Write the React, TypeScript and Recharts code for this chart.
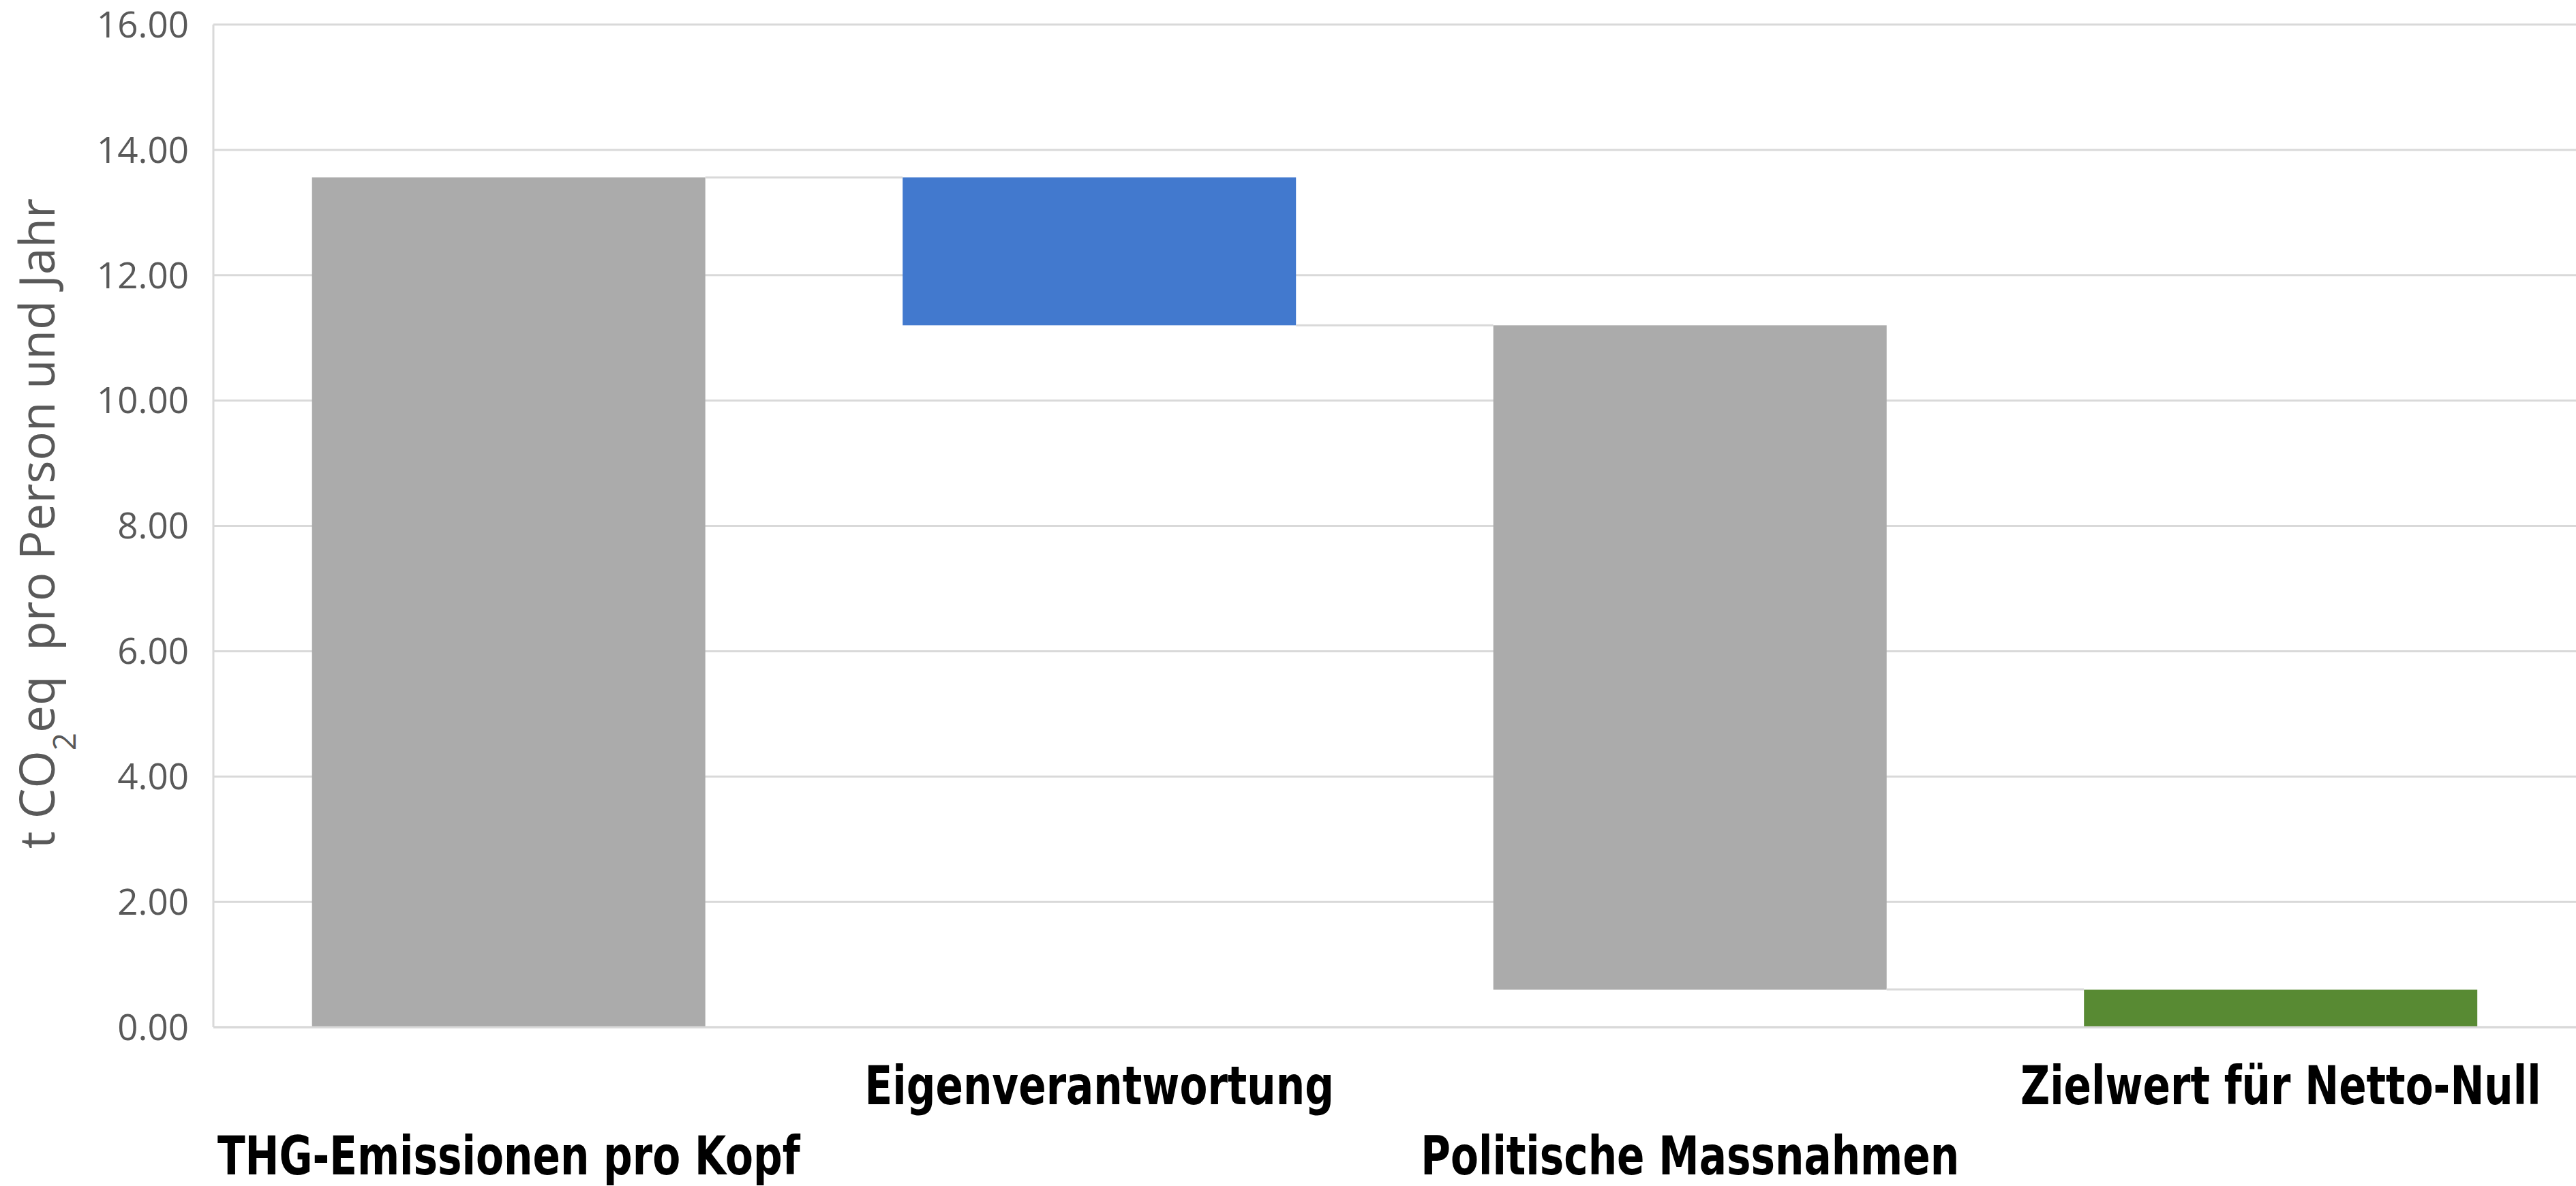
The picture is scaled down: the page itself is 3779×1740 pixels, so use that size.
import React from "react";
import { BarChart, Bar, XAxis, YAxis, CartesianGrid } from "recharts";

const categories = [
  "THG-Emissionen pro Kopf",
  "Eigenverantwortung",
  "Politische Massnahmen",
  "Zielwert für Netto-Null",
];
const lowValues = [0, 11.2, 0.6, 0];
const highValues = [13.56, 13.56, 11.2, 0.6];
// total = connector leaves from the top, down = from the bottom
const stepKinds = ["total", "down", "down", "total"];
const barColors = ["#ababab", "#4279ce", "#ababab", "#588a33"];
const yTicks = [0, 2, 4, 6, 8, 10, 12, 14, 16];

const data = categories.map((name, i) => ({
  name,
  range: [lowValues[i], highValues[i]],
  kind: stepKinds[i],
}));

const GAP = 0.167;
const gridColor = "#d9d9d9";
const tickFont = "'Open Sans', 'Noto Sans', sans-serif";
const catFont = "'Liberation Sans Narrow', 'DejaVu Sans Condensed', sans-serif";
const catSqueeze = 0.85; // reference uses a condensed bold face

const WaterfallBar = (props: any) => {
  const { x, y, width, height, index, payload } = props;
  const gapLen = (width * 2 * GAP) / (1 - 2 * GAP);
  const lineY = payload.kind === "total" ? y : y + height;
  return (
    <g>
      <rect x={x} y={y} width={width} height={height} fill={barColors[index]} />
      {index < categories.length - 1 && (
        <line
          x1={x + width}
          x2={x + width + gapLen}
          y1={lineY}
          y2={lineY}
          stroke={gridColor}
          strokeWidth={3}
        />
      )}
    </g>
  );
};

const CategoryTick = (props: any) => {
  const { x, y, payload, index } = props;
  const dy = index % 2 === 0 ? 216 : 113;
  return (
    <g transform={`translate(${x},${y + dy}) scale(${catSqueeze},1)`}>
      <text
        x={0}
        y={0}
        textAnchor="middle"
        fill="#000"
        fontFamily={catFont}
        fontWeight="bold"
        fontSize={78}
      >
        {payload.value}
      </text>
    </g>
  );
};

const YTitle = () => (
  <text
    x={80}
    y={768}
    transform="rotate(-90, 80, 768)"
    textAnchor="middle"
    fill="#595959"
    fontFamily={tickFont}
    fontSize={71}
    style={{ whiteSpace: "pre" }}
  >
    t CO<tspan baselineShift="sub" fontSize={46}>2</tspan>eq  pro Person und Jahr
  </text>
);

export default function App() {
  return (
    <div style={{ position: "absolute", left: 0, top: 0, background: "#fff" }}>
      <BarChart
        width={3779}
        height={1740}
        data={data}
        margin={{ top: 36, right: 0, left: 0, bottom: 0 }}
        barCategoryGap={`${GAP * 100}%`}
      >
        <CartesianGrid vertical={false} stroke={gridColor} strokeWidth={3} />
        <XAxis
          dataKey="name"
          height={233}
          interval={0}
          tickLine={false}
          tickSize={0}
          tickMargin={0}
          axisLine={{ stroke: gridColor, strokeWidth: 3 }}
          tick={<CategoryTick />}
        />
        <YAxis
          width={313}
          domain={[0, 16]}
          ticks={yTicks}
          interval={0}
          tickLine={false}
          tickSize={30}
          tickMargin={6}
          axisLine={{ stroke: gridColor, strokeWidth: 3 }}
          tickFormatter={(v: number) => v.toFixed(2)}
          tick={{ fill: "#595959", fontSize: 53, fontFamily: tickFont }}
          label={{ content: () => <YTitle /> }}
        />
        <Bar dataKey="range" shape={<WaterfallBar />} isAnimationActive={false} />
      </BarChart>
    </div>
  );
}
